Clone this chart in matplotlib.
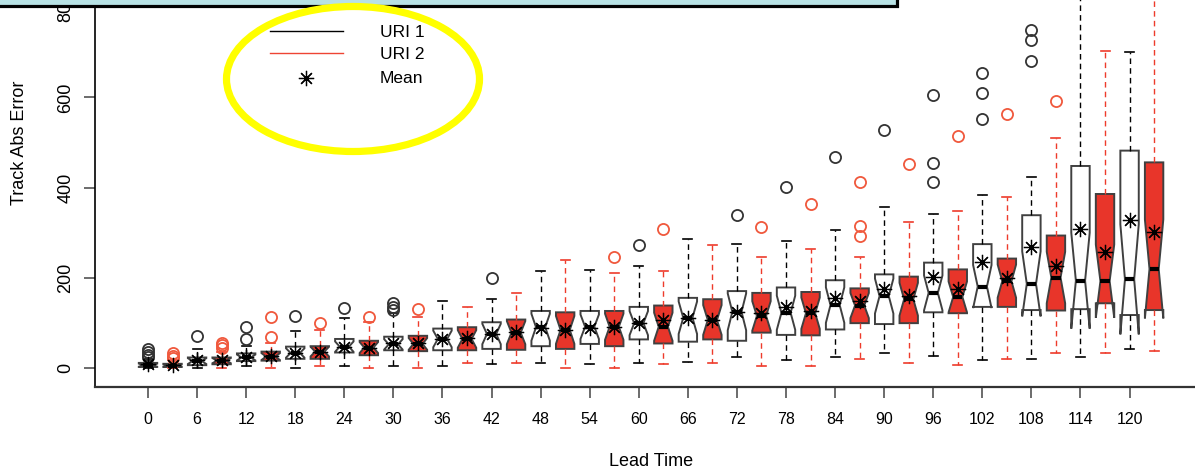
import matplotlib
matplotlib.use('Agg')
import matplotlib.pyplot as plt
from matplotlib.patches import Ellipse, Rectangle

plt.rcParams['font.family'] = ['Liberation Sans', 'DejaVu Sans']

# lead times (h); URI 2 boxes sit 3 h to the right of URI 1
lead = [0, 6, 12, 18, 24, 30, 36, 42, 48, 54, 60, 66, 72, 78, 84, 90, 96, 102, 108, 114, 120]

# URI 1 (black)
uri1_lo = [0, 0, 5, 0, 5, 5, 5, 10, 12, 9, 12, 15, 26, 18, 26, 33, 28, 18, 21, 26, 43]
uri1_q1 = [3, 7, 16, 21, 35, 40, 40, 43, 49, 54, 64, 59, 61, 74, 86, 98, 124, 136, 129, 131, 118]
uri1_med = [7, 16, 24, 34, 48, 53, 65, 76, 91, 92, 100, 112, 125, 123, 140, 160, 167, 181, 187, 194, 197]
uri1_q3 = [12, 24, 33, 48, 65, 70, 88, 102, 127, 127, 136, 156, 171, 179, 195, 208, 234, 275, 339, 448, 482]
uri1_hi = [20, 43, 49, 83, 111, 122, 149, 153, 216, 217, 226, 286, 275, 283, 306, 358, 341, 384, 424, 980, 700]
uri1_mean = [9, 18, 26, 35, 47, 55, 65, 77, 89, 90, 101, 112, 125, 135, 156, 175, 203, 235, 268, 309, 328]
uri1_out = [[24, 30, 36, 42], [72], [66, 92], [116], [133], [129, 136, 144], [], [200], [], [], [273],
            [], [339], [401], [467], [528], [412, 454, 605], [553, 609, 653], [680, 727, 750], [], []]

# URI 2 (red)
uri2_lo = [0, 0, 0, 5, 1, 1, 12, 12, 0, 0, 9, 12, 5, 5, 21, 12, 7, 20, 33, 35, 39]
uri2_q1 = [3, 9, 17, 21, 29, 38, 40, 41, 43, 49, 55, 64, 79, 73, 100, 100, 122, 136, 128, 144, 129]
uri2_med = [6, 17, 26, 37, 46, 54, 65, 79, 85, 92, 92, 107, 116, 122, 139, 153, 158, 193, 201, 193, 220]
uri2_q3 = [10, 24, 37, 49, 61, 72, 91, 108, 124, 127, 139, 153, 167, 169, 177, 203, 219, 243, 294, 386, 456]
uri2_hi = [18, 36, 57, 84, 103, 114, 136, 166, 240, 210, 215, 273, 247, 264, 247, 325, 348, 380, 511, 703, 950]
uri2_mean = [8, 19, 28, 37, 45, 57, 67, 80, 85, 92, 107, 107, 122, 126, 149, 160, 175, 201, 227, 258, 301]
uri2_out = [[22, 28, 34], [46, 51, 55], [70, 114], [100], [114], [131], [], [], [], [246], [309],
            [], [312], [363], [294, 316, 412], [453], [514], [563], [592], [], []]

# cases per lead time (sets the notch size)
n_cases = [17, 17, 17, 17, 17, 17, 17, 17, 17, 18, 18, 18, 18, 19, 19, 20, 20, 21, 21, 22, 22]


def box_stats(lo, q1, med, q3, hi, mean, out):
    res = []
    for i in range(len(lead)):
        half = 1.57 * (q3[i] - q1[i]) / n_cases[i] ** 0.5
        res.append(dict(whislo=lo[i], q1=q1[i], med=med[i], q3=q3[i], whishi=hi[i],
                        mean=mean[i], fliers=out[i], cilo=med[i] - half, cihi=med[i] + half))
    return res


W, H = 1195, 476
fig = plt.figure(figsize=(W / 100, H / 100), dpi=100)
ax = fig.add_axes([95 / W, (H - 386.7) / H, 1100 / W, 386.7 / H])

red = '#E8352A'
edge = '#404040'
dash = (0, (4, 3))
star = (8, 2, 0)   # R's pch 8

def draw(stats, pos, face, lcol, fcol):
    ax.bxp(stats, positions=pos, widths=2.25, capwidths=1.1, shownotches=True, showmeans=True,
           patch_artist=True, manage_ticks=False,
           boxprops=dict(facecolor=face, edgecolor=edge, linewidth=1.4),
           whiskerprops=dict(color=lcol, linestyle=dash, linewidth=1.0),
           capprops=dict(color=lcol, linewidth=1.2),
           medianprops=dict(color='black', linewidth=3, solid_capstyle='butt'),
           meanprops=dict(marker=star, markeredgecolor='black', markersize=11, markeredgewidth=0.9),
           flierprops=dict(marker='o', markerfacecolor='none', markeredgecolor=fcol,
                           markersize=8, markeredgewidth=1.3))

draw(box_stats(uri1_lo, uri1_q1, uri1_med, uri1_q3, uri1_hi, uri1_mean, uri1_out),
     lead, 'white', 'black', '#333333')
draw(box_stats(uri2_lo, uri2_q1, uri2_med, uri2_q3, uri2_hi, uri2_mean, uri2_out),
     [l + 3 for l in lead], red, '#EE3B2B', '#F0583C')

ax.set_xlim(-6.48, 128.0)
ax.set_ylim(-40.7, 815.5)
ax.set_xticks(lead)
ax.set_xticklabels([str(l) for l in lead], fontsize=11.5)
ax.set_yticks([0, 200, 400, 600, 800])
ax.set_yticklabels(['0', '200', '400', '600', '800'], fontsize=13, rotation=90, va='center')
ax.tick_params(axis='x', length=8, width=1.1, color='#444444', pad=10)
ax.tick_params(axis='y', length=8, width=1.1, color='#444444', pad=7)
for s in ['top', 'right']:
    ax.spines[s].set_visible(False)
ax.spines['left'].set_linewidth(1.2)
ax.spines['bottom'].set_linewidth(1.6)
ax.spines['bottom'].set_color('#333333')

ax.set_xlabel('Lead Time', fontsize=13)
ax.xaxis.set_label_coords((651 - 95) / 1100, ((H - 453.3) / H - (H - 386.7) / H) / (386.7 / H))
ax.set_ylabel('Track Abs Error', fontsize=13)
ax.yaxis.set_label_coords((28 - 95) / 1100, ((H - 142.5) / H - (H - 386.7) / H) / (386.7 / H))

# overlay in pixel coordinates for the annotations
ov = fig.add_axes([0, 0, 1, 1], zorder=5)
ov.set_xlim(0, W)
ov.set_ylim(H, 0)
ov.axis('off')
ov.patch.set_alpha(0)

ov.add_patch(Rectangle((-10, -20), 907.5, 25.6, facecolor='#B7E1E4', edgecolor='black', linewidth=2.3))
ov.add_patch(Ellipse((353, 79), 253, 145, facecolor='none', edgecolor='#FFFF00', linewidth=5.2))

ov.plot([270, 343], [30.7, 30.7], color='black', linewidth=1)
ov.plot([270, 343], [53.3, 53.3], color='#EE4433', linewidth=1)
ov.plot([306], [77.7], marker=star, color='black', markersize=11, markeredgewidth=0.9)
for txt, yb in [('URI 1', 36.7), ('URI 2', 59.3), ('Mean', 83.3)]:
    ov.text(380, yb, txt, fontsize=12.5, va='baseline', ha='left')

fig.savefig('out.png', dpi=100)
